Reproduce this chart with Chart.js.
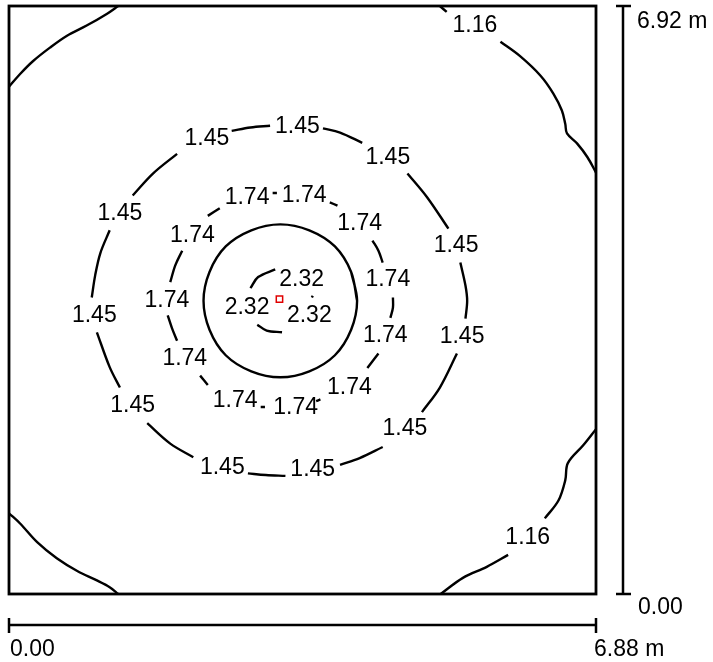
<!DOCTYPE html>
<html>
<head>
<meta charset="utf-8">
<script src="https://cdn.jsdelivr.net/npm/chart.js@4"></script>
<style>
  body { margin: 0; background: #fff; }
  #wrap { width: 713px; height: 662px; }
</style>
</head>
<body>
<div id="wrap"><canvas id="chart"></canvas></div>
<script>
// room size (m)
const roomWidth = 6.88;
const roomDepth = 6.92;
const xTickLabels = ['0.00', '6.88 m'];
const yTickLabels = ['0.00', '6.92 m'];

// luminaire position
const luminaire = [[3.17, 3.47]];

// isolux lines, each one a list of segments ([x, y] in m)
const line116 = [
  [[0, 5.97], [0.13, 6.12], [0.28, 6.27], [0.48, 6.43], [0.68, 6.57], [0.91, 6.69], [1.15, 6.83], [1.28, 6.92]],
  [[5.05, 6.92], [5.13, 6.85]],
  [[5.76, 6.50], [5.99, 6.33], [6.23, 6.10], [6.38, 5.89], [6.48, 5.69], [6.52, 5.53], [6.54, 5.42],
   [6.66, 5.30], [6.78, 5.14], [6.88, 4.96]],
  [[0, 0.95], [0.13, 0.83], [0.33, 0.61], [0.56, 0.42], [0.80, 0.27], [1.03, 0.16], [1.18, 0.08], [1.28, 0]],
  [[6.88, 1.94], [6.73, 1.75], [6.55, 1.54], [6.52, 1.34], [6.44, 1.10], [6.28, 0.89]],
  [[5.85, 0.46], [5.60, 0.32], [5.32, 0.19], [5.06, 0]]
];
const line145 = [
  [[2.61, 5.45], [2.83, 5.49], [3.06, 5.51]],
  [[3.68, 5.48], [3.88, 5.43], [4.14, 5.31]],
  [[4.67, 4.95], [4.90, 4.67], [5.15, 4.30]],
  [[5.29, 3.90], [5.35, 3.63], [5.37, 3.45], [5.35, 3.24]],
  [[5.25, 2.83], [5.05, 2.43], [4.84, 2.14]],
  [[4.38, 1.73], [4.11, 1.60], [3.88, 1.52]],
  [[2.80, 1.42], [3.01, 1.40], [3.24, 1.39]],
  [[2.16, 1.61], [1.89, 1.77], [1.62, 2.01]],
  [[1.30, 2.43], [1.18, 2.67], [1.03, 3.08]],
  [[0.97, 3.49], [1.01, 3.75], [1.07, 4.01], [1.18, 4.28]],
  [[1.45, 4.69], [1.69, 4.95], [1.97, 5.18]]
];
const line174 = [
  [[3.09, 4.72], [3.14, 4.72]],
  [[3.76, 4.61], [3.85, 4.57]],
  [[4.26, 4.16], [4.33, 4.04], [4.38, 3.90]],
  [[4.50, 3.49], [4.50, 3.37], [4.47, 3.25]],
  [[4.33, 2.83], [4.20, 2.66]],
  [[3.60, 2.27], [3.65, 2.29]],
  [[2.95, 2.20], [3.00, 2.20]],
  [[2.24, 2.57], [2.33, 2.46]],
  [[1.86, 3.28], [1.91, 3.13], [1.97, 2.98]],
  [[1.89, 3.67], [1.95, 3.87], [2.03, 4.04]],
  [[2.33, 4.45], [2.47, 4.54]]
];
// closed ring, last two points repeat the start so the join stays smooth
const line203 = [
  [[4.08, 3.45], [4.01, 3.79], [3.82, 4.09], [3.52, 4.28], [3.18, 4.35], [2.84, 4.28], [2.54, 4.09],
   [2.35, 3.79], [2.28, 3.45], [2.35, 3.11], [2.54, 2.81], [2.84, 2.62], [3.18, 2.55], [3.52, 2.62],
   [3.82, 2.81], [4.01, 3.11], [4.08, 3.45], [4.01, 3.79]]
];
const line232 = [
  [[2.83, 3.60], [2.92, 3.73], [3.12, 3.82]],
  [[2.91, 3.17], [3.02, 3.10], [3.20, 3.08]],
  [[3.55, 3.49], [3.56, 3.51]]
];

// label positions for each level
const labels116 = [[5.46, 6.69], [6.08, 0.66]];
const labels145 = [[2.32, 5.36], [3.38, 5.50], [4.44, 5.14], [5.24, 4.10], [5.31, 3.03], [4.64, 1.95],
                   [3.56, 1.46], [2.50, 1.49], [1.45, 2.22], [1.00, 3.28], [1.30, 4.48]];
const labels174 = [[2.79, 4.67], [3.46, 4.69], [4.11, 4.36], [4.44, 3.70], [4.41, 3.04], [3.99, 2.43],
                   [3.36, 2.19], [2.65, 2.28], [2.06, 2.77], [1.85, 3.45], [2.15, 4.22]];
const labels232 = [[3.43, 3.70], [2.79, 3.37], [3.52, 3.27]];

const levels = [
  { text: '1.16', line: line116, labels: labels116 },
  { text: '1.45', line: line145, labels: labels145 },
  { text: '1.74', line: line174, labels: labels174 },
  { text: '2.03', line: line203, labels: [] },
  { text: '2.32', line: line232, labels: labels232 }
];

const FONT = '23px "Liberation Sans", Arial, sans-serif';

function toPoints(segments) {
  const out = [];
  segments.forEach((seg, i) => {
    if (i > 0) out.push({ x: null, y: null });
    seg.forEach(p => out.push({ x: p[0], y: p[1] }));
  });
  return out;
}

const datasets = levels.map(l => ({
  label: l.text,
  data: toPoints(l.line),
  showLine: true,
  spanGaps: false,
  borderColor: '#000',
  borderWidth: 2.4,
  pointRadius: 0,
  tension: 0.35,
  clip: 0
}));

datasets.push({
  label: 'luminaire',
  data: luminaire.map(p => ({ x: p[0], y: p[1] })),
  showLine: false,
  pointStyle: 'rect',
  pointRadius: 4.5,
  pointBorderColor: '#e00000',
  pointBackgroundColor: '#fff',
  pointBorderWidth: 1.5
});

const roomPlugin = {
  id: 'roomPlugin',
  afterDatasetsDraw(chart) {
    const ctx = chart.ctx;
    const xs = chart.scales.x, ys = chart.scales.y;
    const left = xs.getPixelForValue(0), right = xs.getPixelForValue(roomWidth);
    const top = ys.getPixelForValue(roomDepth), bottom = ys.getPixelForValue(0);
    ctx.save();
    ctx.strokeStyle = '#000';
    ctx.lineWidth = 2.8;
    ctx.strokeRect(left, top, right - left, bottom - top);

    // contour labels
    ctx.fillStyle = '#000';
    ctx.font = FONT;
    ctx.textAlign = 'center';
    ctx.textBaseline = 'middle';
    levels.forEach(l => {
      l.labels.forEach(p => {
        ctx.fillText(l.text, xs.getPixelForValue(p[0]), ys.getPixelForValue(p[1]));
      });
    });

    // dimension bars
    ctx.lineWidth = 2.5;
    const vx = right + 27;
    ctx.beginPath();
    ctx.moveTo(vx, top); ctx.lineTo(vx, bottom);
    ctx.moveTo(vx - 7, top); ctx.lineTo(vx + 8, top);
    ctx.moveTo(vx - 7, bottom); ctx.lineTo(vx + 8, bottom);
    const hy = bottom + 31;
    ctx.moveTo(left, hy); ctx.lineTo(right, hy);
    ctx.moveTo(left, hy - 7); ctx.lineTo(left, hy + 8);
    ctx.moveTo(right, hy - 7); ctx.lineTo(right, hy + 8);
    ctx.stroke();

    ctx.textAlign = 'left';
    ctx.fillText(yTickLabels[1], vx + 14, top + 16);
    ctx.fillText(yTickLabels[0], vx + 15, bottom + 14);
    ctx.fillText(xTickLabels[0], left + 1, hy + 25);
    ctx.fillText(xTickLabels[1], right - 2, hy + 25);
    ctx.restore();
  }
};

new Chart(document.getElementById('chart').getContext('2d'), {
  type: 'scatter',
  data: { datasets: datasets },
  options: {
    responsive: true,
    maintainAspectRatio: false,
    animation: false,
    layout: { padding: { left: 9, top: 5, right: 117, bottom: 68 } },
    plugins: {
      legend: { display: false },
      tooltip: { enabled: false }
    },
    scales: {
      x: { type: 'linear', min: 0, max: roomWidth, display: false },
      y: { type: 'linear', min: 0, max: roomDepth, display: false }
    }
  },
  plugins: [roomPlugin]
});
</script>
</body>
</html>
